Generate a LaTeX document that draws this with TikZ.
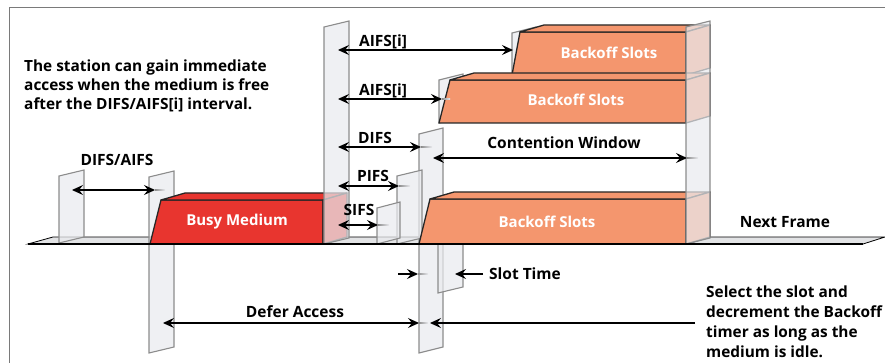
\documentclass[tikz,border=0pt]{standalone}
\usepackage{fontspec}
\setmainfont{Open Sans}
\usetikzlibrary{arrows.meta}

\definecolor{busyred}{HTML}{E8352F}
\definecolor{slotorange}{HTML}{F4966E}
\definecolor{planefill}{HTML}{E9EAEE}
\definecolor{planeedge}{HTML}{8C8C8C}
\definecolor{framegrey}{HTML}{7A7A7A}
\definecolor{groundgrey}{HTML}{E2E3E5}

% translucent vertical plane: left x, width, top-left y, bottom-left y
\newcommand\drawplane[4]{%
  \filldraw[plane] (#1,#3) -- ++(#2,-6) -- ({#1+#2},{#4-6}) -- (#1,#4) -- cycle;}
% 3D frame box: style, bottom-left x, top-left x, top y, bottom y, right x
\newcommand\drawbox[6]{%
  \filldraw[#1] (#2,#5) -- (#3,#4) -- (#6,#4) -- (#6,#5) -- cycle;
  \filldraw[#1] (#3,#4) -- ++(24,-7) -- ({#6+24},{#4-7}) -- (#6,#4) -- cycle;
  \filldraw[#1] (#6,#4) -- ({#6+24},{#4-7}) -- ({#6+24},{#5-7}) -- (#6,#5) -- cycle;}
% arrow shaft running into a plane
\newcommand\fadetail[3]{%
  \shade[left color=black!45, right color=planefill] (#1,{#3-0.7}) rectangle (#2,{#3+0.7});}

\tikzset{
  plane/.style={fill=planefill, fill opacity=0.72, draw=planeedge, draw opacity=1, line width=1.1pt, line join=miter},
  busybox/.style={fill=busyred, draw=black!85, line width=1.3pt, line join=round},
  slotbox/.style={fill=slotorange, draw=black!85, line width=1.3pt, line join=round},
  tip/.tip={Stealth[length=11pt, width=10pt, inset=4pt]},
  dbl/.style={tip-tip, line width=1.2pt},
  sgl/.style={-tip, line width=1.2pt},
  lbl/.style={font=\fontsize{15.5}{15.5}\selectfont\bfseries, inner sep=0pt},
  boxlbl/.style={font=\fontsize{15}{15}\selectfont\bfseries, text=white, inner sep=0pt},
  note/.style={font=\fontsize{15.4}{19}\selectfont\bfseries, align=left, inner sep=0pt, anchor=north west}
}

\begin{document}
\begin{tikzpicture}[x=1pt, y=-1pt]
\useasboundingbox (0,0) rectangle (885,363);

% outer frame
\draw[framegrey, line width=1pt] (9,363) -- (9,8) -- (885,8);

% ground strip of the time axis
\filldraw[fill=groundgrey, draw=black, line width=0.8pt] (28,244) -- (53,237) -- (885,237) -- (863,244) -- cycle;

% planes behind the frames
\drawplane{59}{25}{176}{243}
\drawplane{149}{25}{177}{353}
\drawplane{512}{24}{33}{75}
\drawplane{439}{24}{80}{123}
\drawplane{419}{24}{134}{353}
\drawplane{397}{25}{176}{244}
\drawplane{377}{23}{208}{244}
\drawplane{438}{25}{244}{293}

% frames on the medium
\drawbox{busybox}{150}{161}{200}{244}{323}
\drawbox{slotbox}{512}{520}{32}{75}{686}
\drawbox{slotbox}{439}{450}{80}{123}{686}
\drawbox{slotbox}{419}{430}{199}{244}{686}

% planes in front of the frame sides
\drawplane{324}{25}{27}{244}
\drawplane{686}{24}{27}{244}

% time axis
\draw[black, line width=1.6pt] (28,244) -- (863,244);

% arrow end points
\coordinate (daL) at (72,190);   \coordinate (daR) at (155,190);
\coordinate (a1L) at (338,50);   \coordinate (a1R) at (513,50);
\coordinate (a2L) at (338,99);   \coordinate (a2R) at (442,99);
\coordinate (dfL) at (338,147);  \coordinate (dfR) at (421,147);
\coordinate (cwL) at (433,158);  \coordinate (cwR) at (687,158);
\coordinate (pfL) at (338,186);  \coordinate (pfR) at (399,186);
\coordinate (sfL) at (338,225);  \coordinate (sfR) at (378,225);
\coordinate (stA) at (398,274);  \coordinate (stB) at (418,274);
\coordinate (stC) at (483,274);  \coordinate (stD) at (455,274);
\coordinate (deL) at (163,323);  \coordinate (deR) at (419,323);
\coordinate (deS) at (695,323);  \coordinate (deE) at (430,323);

% shafts fading into the planes
\fadetail{155}{165}{190}
\fadetail{442}{450}{99}
\fadetail{421}{432}{147}
\fadetail{687}{698}{158}
\fadetail{399}{410}{186}
\fadetail{378}{389}{225}
\fadetail{418}{428}{274}
\fadetail{419}{428}{323}

% interval arrows
\draw[dbl] (daL) -- (daR);
\draw[dbl] (a1L) -- (a1R);
\draw[dbl] (a2L) -- (a2R);
\draw[dbl] (dfL) -- (dfR);
\draw[dbl] (cwL) -- (cwR);
\draw[dbl] (pfL) -- (pfR);
\draw[dbl] (sfL) -- (sfR);
\draw[sgl] (stA) -- (stB);
\draw[sgl] (stC) -- (stD);
\draw[dbl] (deL) -- (deR);
\draw[sgl] (deS) -- (deE);

% labels
\node[lbl] (tDA) at (117,160) {DIFS/AIFS};
\node[lbl] (tA1) at (383,42) {AIFS[i]};
\node[lbl] (tA2) at (383,91) {AIFS[i]};
\node[lbl] (tDF) at (375,138) {DIFS};
\node[lbl] (tPF) at (373,176) {PIFS};
\node[lbl] (tSF) at (359,210) {SIFS};
\node[lbl] (tCW) at (564,143) {Contention Window};
\node[lbl] (tNF) at (785,222) {Next Frame};
\node[lbl] (tST) at (525,274) {Slot Time};
\node[lbl] (tDE) at (295,312) {Defer Access};

\node[boxlbl] (tBM) at (237,222) {Busy Medium};
\node[boxlbl] (tB1) at (609,53) {Backoff Slots};
\node[boxlbl] (tB2) at (576,100) {Backoff Slots};
\node[boxlbl] (tB3) at (547,222) {Backoff Slots};

\node[note] (nL) at (24,60) {The station can gain immediate\\access when the medium is free\\after the DIFS/AIFS[i] interval.};
\node[note, font=\fontsize{15.4}{20}\selectfont\bfseries] (nR) at (706,286) {Select the slot and\\decrement the Backoff\\timer as long as the\\medium is idle.};
\end{tikzpicture}
\end{document}
